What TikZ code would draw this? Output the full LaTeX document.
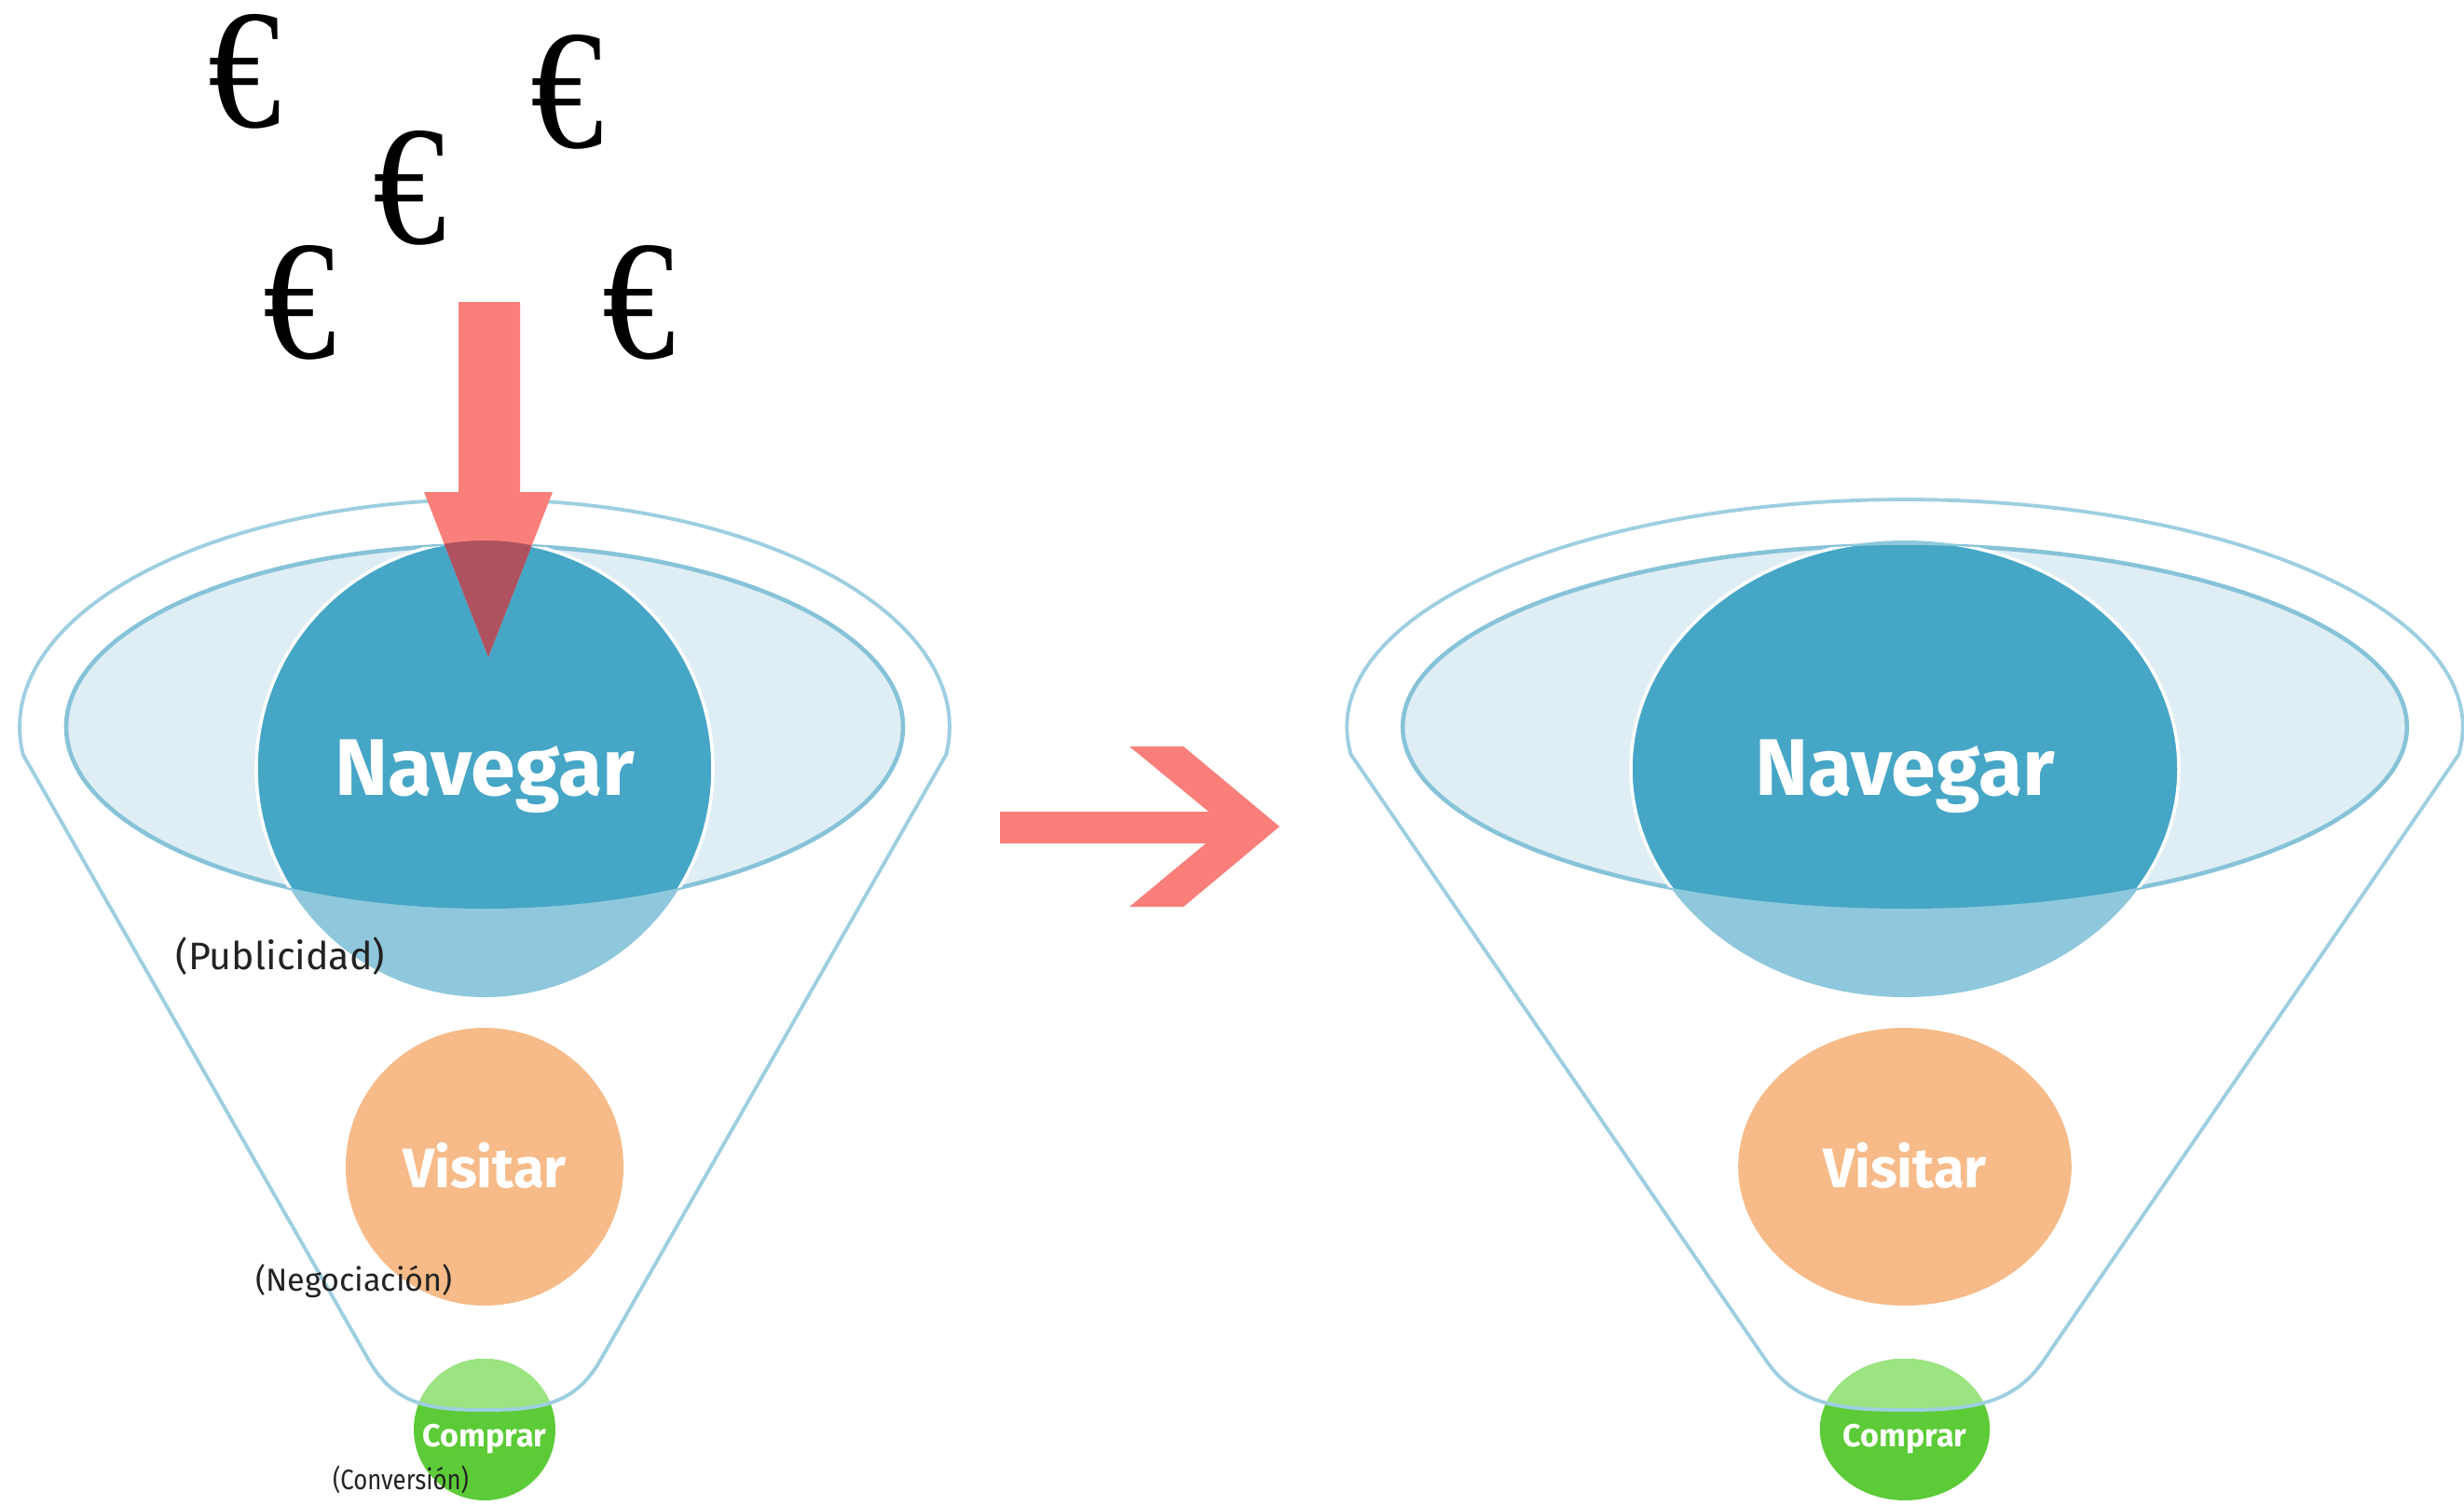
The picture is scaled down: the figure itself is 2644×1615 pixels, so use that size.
\documentclass[tikz,border=0pt]{standalone}
\usepackage{fontspec}
\setmainfont{Fira Sans}
\newfontfamily\eurofont{Liberation Serif}
\definecolor{funnelline}{RGB}{157,207,224}
\definecolor{ellfill}{RGB}{223,238,244}
\definecolor{ellline}{RGB}{134,195,216}
\definecolor{navdark}{RGB}{70,166,198}
\definecolor{navlight}{RGB}{143,200,220}
\definecolor{visitcol}{RGB}{246,187,136}
\definecolor{greendark}{RGB}{92,203,55}
\definecolor{greenlight}{RGB}{155,228,129}
\definecolor{arrowred}{RGB}{250,127,122}
\definecolor{arrowdark}{RGB}{174,82,96}
\definecolor{lbltext}{RGB}{34,34,34}
\tikzset{
  bigtxt/.style={text=white, inner sep=0pt, anchor=base, font=\bfseries\fontsize{24.5}{28}\selectfont},
  midtxt/.style={text=white, inner sep=0pt, anchor=base, font=\bfseries\fontsize{17}{20}\selectfont},
  smalltxt/.style={text=white, inner sep=0pt, anchor=base, font=\bfseries\fontsize{9.7}{11}\selectfont},
  lbl/.style={text=lbltext, inner sep=0pt, anchor=base},
  euro/.style={inner sep=0pt, xscale=0.86, transform shape, font=\eurofont\fontsize{52}{56}\selectfont}
}
\def\fpath{plot[domain=173:367, samples=90] ({499*cos(\x)}, {780+244*sin(\x)}) -- (124,1460) .. controls (97,1507) and (60,1513) .. (0,1513) .. controls (-60,1513) and (-97,1507) .. (-124,1460) -- cycle}
\newcommand\drawfunnel[3]{%
\begin{scope}[shift={(#2,0)}, xscale=#3]
  \fill[white] \fpath;
  \filldraw[fill=ellfill, draw=ellline, line width=1.3pt] (0,780) ellipse [x radius=449, y radius=195];
  \fill[navlight] (0,825) circle [radius=245];
  \begin{scope}
    \clip (0,780) ellipse [x radius=449, y radius=195];
    \fill[navdark] (0,825) circle [radius=245];
    \draw[white, line width=1pt] (0,825) circle [radius=245];
  \end{scope}
  \fill[visitcol] (0,1252) circle [radius=149];
  \fill[greendark] (0,1534) circle [radius=76];
  \begin{scope}
    \clip \fpath;
    \fill[greenlight] (0,1534) circle [radius=76];
  \end{scope}
  \draw[funnelline, line width=1.1pt] \fpath;
  \node[bigtxt] (#1nav) at (0,853) {Navegar};
  \node[midtxt] (#1vis) at (0,1274) {Visitar};
  \node[smalltxt] (#1com) at (0,1552) {Comprar};
\end{scope}}
\begin{document}
\begin{tikzpicture}[x=0.01cm, y=-0.01cm]
\useasboundingbox (0,0) rectangle (2644,1615);
\fill[white] (0,0) rectangle (2644,1615);
\drawfunnel{L}{520}{1}
\drawfunnel{R}{2044}{1.2}
% down arrow
\def\downarrow{(492,324) -- (558,324) -- (558,528) -- (593,528) -- (524,705) -- (455,528) -- (492,528) -- cycle}
\fill[arrowred] \downarrow;
\begin{scope}
  \clip (520,825) circle [radius=245];
  \fill[arrowdark] \downarrow;
\end{scope}
% right arrow
\fill[arrowred] (1073,871) -- (1297,871) -- (1212,801) -- (1270,801) -- (1373,887) -- (1270,973) -- (1212,973) -- (1294,905) -- (1073,905) -- cycle;
% labels
\node[lbl, font=\fontsize{11.7}{13}\selectfont] (pub) at (301,1040) {(Publicidad)};
\node[lbl, font=\fontsize{9.7}{11}\selectfont] (neg) at (380,1385) {(Negociación)};
\node[lbl, font=\fontsize{8.6}{10}\selectfont, xscale=0.85, transform shape] (conv) at (430,1598) {(Conversión)};
% euros
\node[euro] (e1) at (263,77) {€};
\node[euro] (e2) at (609,99) {€};
\node[euro] (e3) at (440,202) {€};
\node[euro] (e4) at (322,325) {€};
\node[euro] (e5) at (686,325) {€};
\end{tikzpicture}
\end{document}
